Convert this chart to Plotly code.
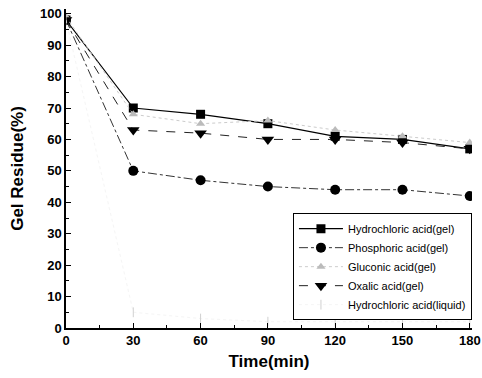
import plotly.graph_objects as go

time_min = [0, 30, 60, 90, 120, 150, 180]
hcl_gel = [98, 70, 68, 65, 61, 60, 57]
phosphoric_gel = [98, 50, 47, 45, 44, 44, 42]
gluconic_gel = [99, 68, 65, 66, 63, 61, 59]
oxalic_gel = [98, 63, 62, 60, 60, 59, 57]
hcl_liquid = [98, 5, 3, 2, 2, 2, 2]

names = ["Hydrochloric acid(gel)", "Phosphoric acid(gel)", "Gluconic acid(gel)",
         "Oxalic acid(gel)", "Hydrochloric acid(liquid)"]

fig = go.Figure()
fig.add_trace(go.Scatter(x=time_min, y=hcl_gel, name=names[0], mode="lines+markers",
                         line=dict(color="black", width=1.2),
                         marker=dict(symbol="square", size=9, color="black")))
fig.add_trace(go.Scatter(x=time_min, y=phosphoric_gel, name=names[1], mode="lines+markers",
                         line=dict(color="#333333", width=1, dash="dashdot"),
                         marker=dict(symbol="circle", size=10, color="black")))
fig.add_trace(go.Scatter(x=time_min, y=gluconic_gel, name=names[2], mode="lines+markers",
                         line=dict(color="#cccccc", width=1, dash="dot"),
                         marker=dict(symbol="triangle-up", size=8, color="#bbbbbb")))
fig.add_trace(go.Scatter(x=time_min, y=oxalic_gel, name=names[3], mode="lines+markers",
                         line=dict(color="#222222", width=1, dash="dash"),
                         marker=dict(symbol="triangle-down", size=11, color="black")))
fig.add_trace(go.Scatter(x=time_min, y=hcl_liquid, name=names[4], mode="lines+markers",
                         line=dict(color="#f5f5f5", width=1, dash="dot"),
                         marker=dict(symbol="line-ns-open", size=7, color="#d0d0d0",
                                     line=dict(width=1, color="#d0d0d0"))))

axis_font = dict(family="Liberation Sans", size=13, color="black")
fig.update_layout(
    width=482, height=378,
    margin=dict(l=66, r=10, t=9, b=50),
    paper_bgcolor="white", plot_bgcolor="white",
    font=dict(family="Liberation Sans", color="black"),
    xaxis=dict(range=[0, 181], tickvals=time_min, ticktext=[f"<b>{v}</b>" for v in time_min],
               tickfont=axis_font, showline=True, linecolor="black", linewidth=1.5,
               ticks="inside", ticklen=5, tickcolor="black", showgrid=False, zeroline=False,
               automargin=False,
               minor=dict(ticks="inside", ticklen=3, dtick=15, tick0=0, tickcolor="black"),
               title=dict(text="<b>Time(min)</b>", font=dict(size=17, family="Liberation Sans"), standoff=8)),
    yaxis=dict(range=[0, 101.5], tickvals=list(range(0, 101, 10)),
               ticktext=[f"<b>{v}</b>" for v in range(0, 101, 10)],
               tickfont=axis_font, showline=True, linecolor="black", linewidth=1.5,
               ticks="inside", ticklen=5, tickcolor="black", showgrid=False, zeroline=False,
               automargin=False,
               minor=dict(ticks="inside", ticklen=3, dtick=5, tick0=0, tickcolor="black"),
               title=dict(text="<b>Gel Residue(%)</b>", font=dict(size=17, family="Liberation Sans"), standoff=12)),
    legend=dict(x=0.559, y=0.36, xanchor="left", yanchor="top", bgcolor="white",
                bordercolor="black", borderwidth=1, font=dict(size=11, family="Liberation Sans"),
                tracegroupgap=0, itemwidth=44),
    showlegend=True,
)

fig.write_html("out.html", config={"displayModeBar": False},
               post_script="document.body.style.margin='0';document.body.style.overflow='hidden';")
